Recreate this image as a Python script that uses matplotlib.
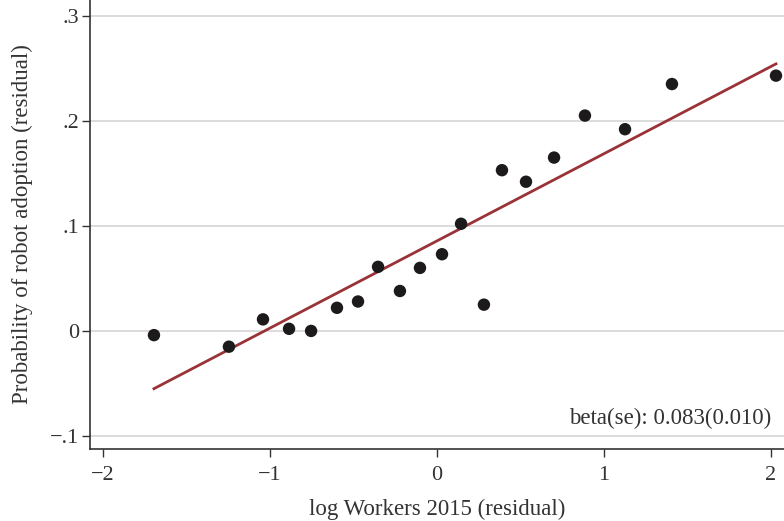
import numpy as np
import matplotlib
matplotlib.use("Agg")
import matplotlib.pyplot as plt

# binned residuals
x_bins = [-1.695, -1.246, -1.042, -0.886, -0.754, -0.599, -0.473, -0.353, -0.222, -0.102,
          0.030, 0.144, 0.281, 0.389, 0.533, 0.701, 0.886, 1.126, 1.407, 2.030]
y_bins = [-0.004, -0.015, 0.011, 0.002, 0.000, 0.022, 0.028, 0.061, 0.038, 0.060,
          0.073, 0.102, 0.025, 0.153, 0.142, 0.165, 0.205, 0.192, 0.235, 0.243]

beta = 0.083
se = 0.010
intercept = 0.0857

xticks = [-2, -1, 0, 1, 2]
yticks = [-0.1, 0, 0.1, 0.2, 0.3]
ytick_labels = ["\u2212.1", "0", ".1", ".2", ".3"]
xtick_labels = ["\u22122", "\u22121", "0", "1", "2"]

plt.rcParams['font.family'] = ['Liberation Serif', 'DejaVu Serif']

fig = plt.figure(figsize=(7.84, 5.21), dpi=100)
ax = fig.add_axes([90 / 784, 72 / 521, 1 - 90 / 784, 1 - 72 / 521])

ax.set_xlim(-2.078, 2.078)
ax.set_ylim(-0.1124, 0.315)

for yt in yticks:
    ax.axhline(yt, color='#d9d9d9', lw=1.3, zorder=0)

line_x = np.array([x_bins[0], x_bins[-1]])
ax.plot(line_x, intercept + beta * line_x, color='#9a3338', lw=2, zorder=2)
ax.scatter(x_bins, y_bins, s=80, color='#1c1a1b', edgecolors='none', zorder=3)

ax.set_xticks(xticks)
ax.set_xticklabels(xtick_labels)
ax.set_yticks(yticks)
ax.set_yticklabels(ytick_labels)
ax.tick_params(axis='both', direction='out', length=6, width=1, color='#333333',
               labelsize=16, labelcolor='#333333')
ax.tick_params(axis='x', pad=6)
ax.tick_params(axis='y', pad=2)

for s in ['top', 'right']:
    ax.spines[s].set_visible(False)
for s in ['left', 'bottom']:
    ax.spines[s].set_color('#333333')
    ax.spines[s].set_linewidth(1.2)

ax.set_xlabel("log Workers 2015 (residual)", fontsize=16.5, labelpad=10, color='#333333')
ax.set_ylabel("Probability of robot adoption (residual)", fontsize=16.5, labelpad=12, color='#333333')

ax.text(2.0, -0.083, "beta(se): %.3f(%.3f)" % (beta, se), ha='right', va='center',
        fontsize=16.5, color='#333333')

fig.savefig("out.png", dpi=100, facecolor='white')
